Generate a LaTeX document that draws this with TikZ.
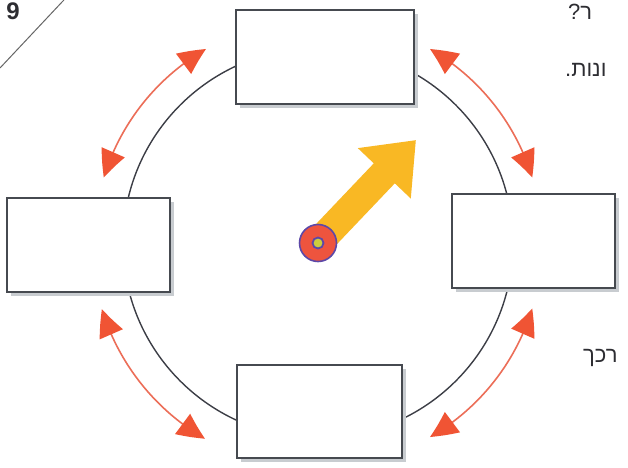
\documentclass[tikz,border=0pt]{standalone}
\usepackage{fontspec}
\setmainfont{Liberation Sans}
\newfontfamily\hebfont[Script=Hebrew]{Liberation Sans}
\TeXXeTstate=1
\usetikzlibrary{arrows.meta,bending,shadows}
\definecolor{ringgray}{RGB}{60,62,70}
\definecolor{boxgray}{RGB}{70,74,80}
\definecolor{shadowgray}{RGB}{200,204,208}
\definecolor{arrline}{RGB}{236,110,88}
\definecolor{arrhead}{RGB}{240,84,52}
\definecolor{yarrow}{RGB}{249,184,36}
\definecolor{tred}{RGB}{238,84,62}
\definecolor{tblue}{RGB}{92,72,168}
\definecolor{tyellow}{RGB}{205,205,60}
\definecolor{textgray}{RGB}{45,45,50}
\tikzset{
  blankbox/.style={draw=boxgray, line width=1.2pt, fill=white, inner sep=0pt,
    general shadow={fill=shadowgray, shadow xshift=4pt, shadow yshift=-4pt}},
  ring/.style={draw=ringgray, line width=1.4pt},
  swaparrow/.style={draw=arrline, line width=1.6pt,
    {Triangle[length=27pt,width=25pt,color=arrhead,bend]}-{Triangle[length=27pt,width=25pt,color=arrhead,bend]}},
  heb/.style={font=\hebfont\fontsize{22}{24}\selectfont, text=textgray, inner sep=0pt}
}
\begin{document}
\begin{tikzpicture}[x=1pt,y=-1pt]
\useasboundingbox (0,0) rectangle (628,467);
\clip (0,0) rectangle (628,467);
\fill[white] (0,0) rectangle (628,467);

% centre and ring
\coordinate (c) at (318,243);
\node[circle, ring, minimum size=390pt, inner sep=0pt] (circ) at (c) {};

% curved double arrows
\path (c) ++(163:224pt) coordinate (tlA);
\path (c) ++(60:224pt) coordinate (trA);
\path (c) ++(197:226pt) coordinate (blA);
\path (c) ++(-17:224pt) coordinate (brA);
\draw[swaparrow] (tlA) arc[start angle=163, end angle=120, radius=224pt];
\draw[swaparrow] (trA) arc[start angle=60, end angle=17, radius=224pt];
\draw[swaparrow] (blA) arc[start angle=197, end angle=240, radius=226pt];
\draw[swaparrow] (brA) arc[start angle=-17, end angle=-60, radius=224pt];

% boxes
\node[blankbox, minimum width=178pt, minimum height=94pt] (top) at (325,57) {};
\node[blankbox, minimum width=163pt, minimum height=94pt] (left) at (88.5,245) {};
\node[blankbox, minimum width=163pt, minimum height=94pt] (right) at (533.5,241) {};
\node[blankbox, minimum width=165pt, minimum height=93pt] (bottom) at (319.5,411.5) {};

% yellow arrow and target
\coordinate (ytip) at (416,140);
\draw[yarrow, line width=29pt, -{Triangle[length=46pt,width=70pt]}] (c) -- (ytip);
\node[circle, fill=tred, draw=tblue, line width=1.6pt, minimum size=37pt, inner sep=0pt] (tgt) at (c) {};
\node[circle, fill=tyellow, draw=tblue, line width=1.8pt, minimum size=11pt, inner sep=0pt] (bull) at (tgt) {};

% corner of number box
\draw[gray!80!black, line width=1pt] (0,68) -- (62,2) -- (64,0);
\node[font=\bfseries\fontsize{24}{24}\selectfont, text=textgray, inner sep=0pt] (num) at (13,11) {9};

% cut-off text at right edge
\node[heb, anchor=base west] (t1) at (568,19) {\beginR ר?\endR};
\node[heb, anchor=base west] (t2) at (565,76) {\beginR ונות.\endR};
\node[heb, anchor=base west] (t3) at (583,362) {\beginR רכך\endR};
\end{tikzpicture}
\end{document}
